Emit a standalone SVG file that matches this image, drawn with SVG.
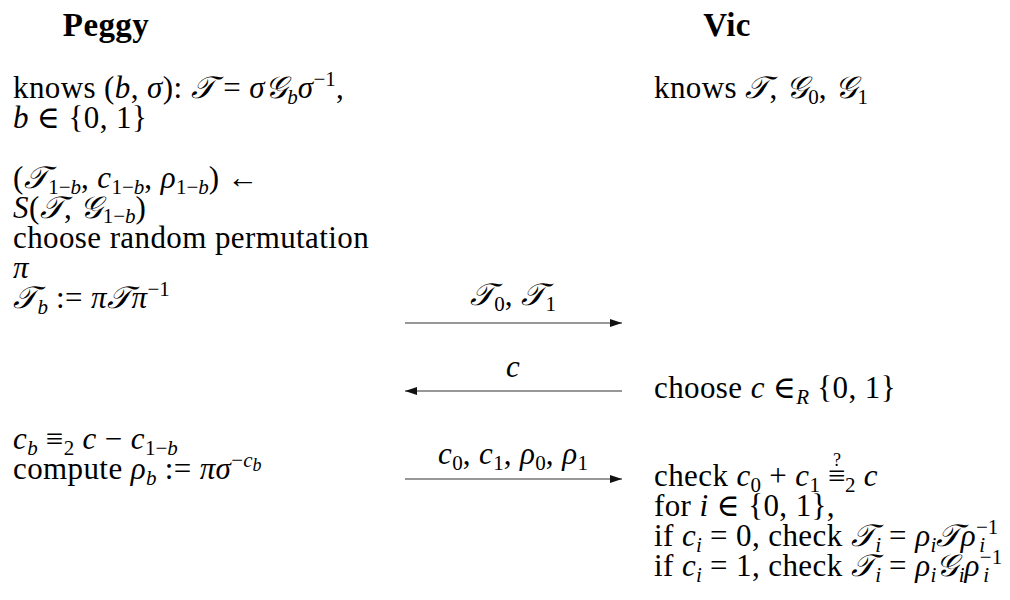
<svg xmlns="http://www.w3.org/2000/svg" width="1010" height="600" viewBox="0 0 1010 600">
<style>
text{font-family:"Liberation Serif","DejaVu Serif",serif;font-size:31px;letter-spacing:0.4px;fill:#000}
.hd{font-weight:bold;text-anchor:middle;font-size:33px}
.i{font-style:italic}
.s{font-size:21px;letter-spacing:0}
.q{font-size:18px;letter-spacing:0}
.lbl{text-anchor:middle}
.arr{stroke:#333;stroke-width:1.2;fill:none}
</style>
<defs>
<marker id="ah" viewBox="0 0 12 8" refX="12" refY="4" markerWidth="12" markerHeight="8" markerUnits="userSpaceOnUse" orient="auto">
<path d="M0,0 L12,4 L0,8 Z" fill="#111"/>
</marker>
</defs>
<g id="peggy">
<text class="hd" x="106" y="36">Peggy</text>
<text x="13" y="98">knows (<tspan class="i">b</tspan>, <tspan class="i">σ</tspan>):  <tspan class="i">𝒯</tspan> = <tspan class="i">σ𝒢</tspan><tspan class="s i" dy="6">b</tspan><tspan class="i" dy="-6">σ</tspan><tspan class="s" dy="-12">−1</tspan><tspan dy="12">,</tspan></text>
<text x="13" y="128"><tspan class="i">b</tspan> ∈ {0, 1}</text>
<text x="13" y="188">(<tspan class="i">𝒯</tspan><tspan class="s" dy="6">1−<tspan class="i">b</tspan></tspan><tspan dy="-6">, </tspan><tspan class="i">c</tspan><tspan class="s" dy="6">1−<tspan class="i">b</tspan></tspan><tspan dy="-6">, </tspan><tspan class="i">ρ</tspan><tspan class="s" dy="6">1−<tspan class="i">b</tspan></tspan><tspan dy="-6">) ←</tspan></text>
<text x="13" y="218"><tspan class="i">S</tspan>(<tspan class="i">𝒯</tspan>, <tspan class="i">𝒢</tspan><tspan class="s" dy="5">1−<tspan class="i">b</tspan></tspan><tspan dy="-5">)</tspan></text>
<text x="13" y="248">choose random permutation</text>
<text x="13" y="278" class="i">π</text>
<text x="13" y="308"><tspan class="i">𝒯</tspan><tspan class="s i" dy="6">b</tspan><tspan dy="-6"> := </tspan><tspan class="i">π𝒯π</tspan><tspan class="s" dy="-12">−1</tspan></text>
<text x="13" y="449"><tspan class="i">c</tspan><tspan class="s i" dy="6">b</tspan><tspan dy="-6"> ≡</tspan><tspan class="s" dy="6">2</tspan><tspan dy="-6"> </tspan><tspan class="i">c</tspan> − <tspan class="i">c</tspan><tspan class="s" dy="6">1−<tspan class="i">b</tspan></tspan></text>
<text x="13" y="479">compute <tspan class="i">ρ</tspan><tspan class="s i" dy="6">b</tspan><tspan dy="-6"> := </tspan><tspan class="i">πσ</tspan><tspan class="s" dy="-12">−<tspan class="i">c</tspan></tspan><tspan class="q i" dy="4">b</tspan></text>
</g>
<g id="vic">
<text class="hd" x="727" y="36">Vic</text>
<text x="654" y="98">knows <tspan class="i">𝒯</tspan>, <tspan class="i">𝒢</tspan><tspan class="s" dy="6">0</tspan><tspan dy="-6">, </tspan><tspan class="i">𝒢</tspan><tspan class="s" dy="6">1</tspan></text>
<text x="654" y="398">choose <tspan class="i">c</tspan> ∈<tspan class="s i" dy="6">R</tspan><tspan dy="-6"> {0, 1}</tspan></text>
<text x="654" y="486">check <tspan class="i">c</tspan><tspan class="s" dy="6">0</tspan><tspan dy="-6"> + </tspan><tspan class="i">c</tspan><tspan class="s" dy="6">1</tspan><tspan dy="-6"> ≡</tspan><tspan class="q" dx="-13" dy="-20">?</tspan><tspan class="s" dx="4" dy="26">2</tspan><tspan dy="-6"> </tspan><tspan class="i">c</tspan></text>
<text x="654" y="516">for <tspan class="i">i</tspan> ∈ {0, 1},</text>
<text x="654" y="546">if <tspan class="i">c</tspan><tspan class="s i" dy="6">i</tspan><tspan dy="-6"> = 0, check </tspan><tspan class="i">𝒯</tspan><tspan class="s i" dy="6">i</tspan><tspan dy="-6"> = </tspan><tspan class="i">ρ</tspan><tspan class="s i" dy="6">i</tspan><tspan class="i" dy="-6">𝒯ρ</tspan><tspan class="s" dy="-12">−1</tspan><tspan class="s i" dx="-19" dy="18">i</tspan></text>
<text x="654" y="576">if <tspan class="i">c</tspan><tspan class="s i" dy="6">i</tspan><tspan dy="-6"> = 1, check </tspan><tspan class="i">𝒯</tspan><tspan class="s i" dy="6">i</tspan><tspan dy="-6"> = </tspan><tspan class="i">ρ</tspan><tspan class="s i" dy="6">i</tspan><tspan class="i" dy="-6">𝒢</tspan><tspan class="s i" dy="6">i</tspan><tspan class="i" dy="-6">ρ</tspan><tspan class="s" dy="-12">−1</tspan><tspan class="s i" dx="-19" dy="18">i</tspan></text>
</g>
<g id="connectors">
<line class="arr" x1="405" y1="323" x2="622" y2="323" marker-end="url(#ah)"/>
<text class="lbl" x="513" y="305"><tspan class="i">𝒯</tspan><tspan class="s" dy="6">0</tspan><tspan dy="-6">, </tspan><tspan class="i">𝒯</tspan><tspan class="s" dy="6">1</tspan></text>
<line class="arr" x1="622" y1="391" x2="405" y2="391" marker-end="url(#ah)"/>
<text class="lbl i" x="513" y="377">c</text>
<line class="arr" x1="405" y1="479" x2="622" y2="479" marker-end="url(#ah)"/>
<text class="lbl" x="513" y="464"><tspan class="i">c</tspan><tspan class="s" dy="6">0</tspan><tspan dy="-6">, </tspan><tspan class="i">c</tspan><tspan class="s" dy="6">1</tspan><tspan dy="-6">, </tspan><tspan class="i">ρ</tspan><tspan class="s" dy="6">0</tspan><tspan dy="-6">, </tspan><tspan class="i">ρ</tspan><tspan class="s" dy="6">1</tspan></text>
</g>
</svg>
